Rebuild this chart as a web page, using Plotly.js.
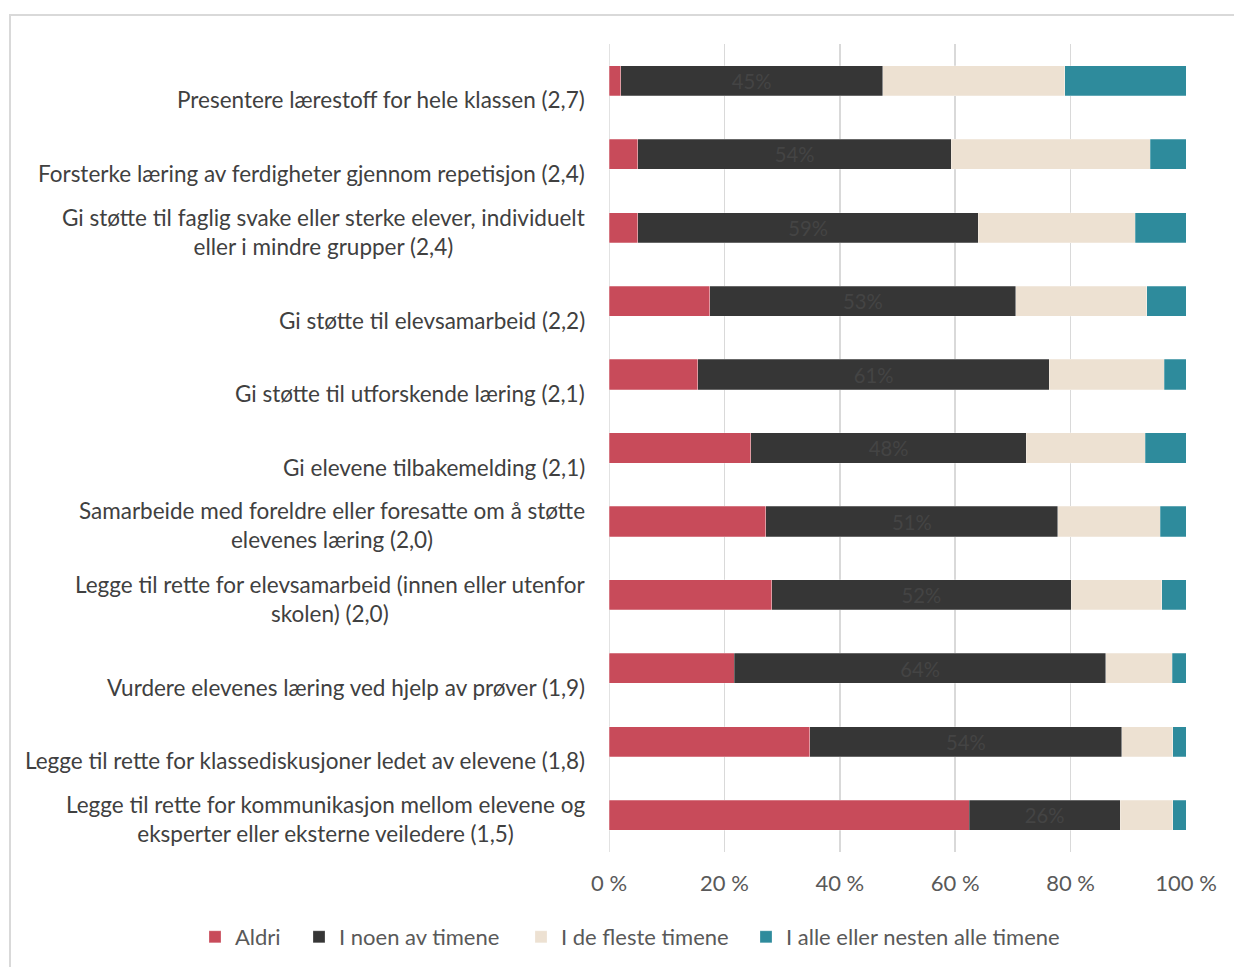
<!DOCTYPE html>
<html>
<head>
<meta charset="utf-8">
<script src="https://cdn.plot.ly/plotly-3.0.1.min.js"></script>
<style>
  html, body { margin: 0; padding: 0; background: #fff; }
  #chart { width: 1234px; height: 967px; }
  #frame { position: absolute; left: 9px; top: 14px; width: 1300px; height: 1100px;
           border-left: 2px solid #d9d9d9; border-top: 2px solid #d9d9d9; pointer-events: none; }
</style>
</head>
<body>
<div id="chart"></div>
<div id="frame"></div>
<script>
const categories = [
  "Presentere lærestoff for hele klassen (2,7)",
  "Forsterke læring av ferdigheter gjennom repetisjon (2,4)",
  "Gi støtte til faglig svake eller sterke elever, individuelt<br>eller i mindre grupper (2,4)",
  "Gi støtte til elevsamarbeid (2,2)",
  "Gi støtte til utforskende læring (2,1)",
  "Gi elevene tilbakemelding (2,1)",
  "Samarbeide med foreldre eller foresatte om å støtte<br>elevenes læring (2,0)",
  "Legge til rette for elevsamarbeid (innen eller utenfor<br>skolen) (2,0)",
  "Vurdere elevenes læring ved hjelp av prøver (1,9)",
  "Legge til rette for klassediskusjoner ledet av elevene (1,8)",
  "Legge til rette for kommunikasjon mellom elevene og<br>eksperter eller eksterne veiledere (1,5)"
];
const seriesNames = ["Aldri", "I noen av timene", "I de fleste timene", "I alle eller nesten alle timene"];
const aldri   = [2.0, 5.0, 5.0, 17.5, 15.4, 24.6, 27.2, 28.2, 21.7, 34.8, 62.4];
const noen    = [45.4, 54.3, 59.0, 53.0, 60.9, 47.7, 50.6, 51.9, 64.4, 54.1, 26.2];
const fleste  = [31.6, 34.5, 27.2, 22.7, 19.9, 20.6, 17.7, 15.7, 11.5, 8.8, 9.1];
const alle    = [21.0, 6.2, 8.8, 6.8, 3.8, 7.1, 4.5, 4.2, 2.4, 2.3, 2.3];
const xTicks  = [0, 20, 40, 60, 80, 100];
const xTickLabels = ["0 %", "20 %", "40 %", "60 %", "80 %", "100 %"];

const colors = ["#C84B5A", "#363636", "#EDE1D2", "#2E8B9C"];
const FONT = "Lato, 'Open Sans', sans-serif";
const values = [aldri, noen, fleste, alle];
const legendIds = ["legend", "legend2", "legend3", "legend4"];
// left edge (px) of each legend entry along the bottom row
const legendLeftPx = [195, 299, 521, 746];

const W = 1234, H = 967;
const M = { l: 609, r: 48, t: 44, b: 115 };
const plotW = W - M.l - M.r, plotH = H - M.t - M.b;

const traces = values.map((v, i) => {
  const t = {
    type: "bar", orientation: "h",
    name: seriesNames[i], x: v, y: categories,
    legend: legendIds[i],
    marker: { color: colors[i], line: { color: "rgba(255,255,255,0.5)", width: 0.5 } },
    hoverinfo: "x+name"
  };
  if (i === 1) {
    t.texttemplate = "%{x:.0f}%";
    t.textposition = "inside";
    t.insidetextanchor = "middle";
    t.textangle = 0;
    t.textfont = { family: FONT, size: 21, color: "#444444" };
  } else {
    t.textposition = "none";
  }
  return t;
});

const annotations = categories.map(c => {
  const twoLines = c.indexOf("<br>") >= 0;
  return {
    xref: "paper", yref: "y", x: 0, y: c,
    xanchor: "right", yanchor: "middle", xshift: -22,
    yshift: twoLines ? -4 : -19,
    align: "center", showarrow: false, text: c,
    font: { family: FONT, size: 22.5, color: "#404040" }
  };
});

const layout = {
  width: W, height: H,
  margin: { l: M.l, r: M.r, t: M.t, b: M.b, autoexpand: false },
  paper_bgcolor: "#fff", plot_bgcolor: "#fff",
  barmode: "stack", bargap: 0.59,
  showlegend: true,
  xaxis: {
    range: [0, 100], tickvals: xTicks, ticktext: xTickLabels,
    showgrid: true, gridcolor: "#d9d9d9", gridwidth: 1.5,
    zeroline: false, showline: false, ticks: "",
    ticklabelstandoff: 16,
    tickfont: { family: FONT, size: 22, color: "#595959" },
    fixedrange: true
  },
  yaxis: {
    type: "category", categoryorder: "array", categoryarray: categories,
    autorange: "reversed", showticklabels: false, showgrid: false,
    zeroline: false, showline: false, ticks: "", fixedrange: true
  },
  shapes: [{ type: "line", xref: "x", yref: "paper", x0: 0, x1: 0, y0: 0, y1: 1,
             line: { color: "#d9d9d9", width: 1.5 }, layer: "below" }],
  annotations: annotations
};

legendIds.forEach((id, i) => {
  layout[id] = {
    orientation: "h", xref: "paper", yref: "paper",
    x: (legendLeftPx[i] - M.l) / plotW, xanchor: "left",
    y: -(937 - (H - M.b)) / plotH, yanchor: "middle",
    font: { family: FONT, size: 22, color: "#595959" },
    bgcolor: "rgba(0,0,0,0)"
  };
});

Plotly.newPlot("chart", traces, layout, { displayModeBar: false, staticPlot: true });
</script>
</body>
</html>
